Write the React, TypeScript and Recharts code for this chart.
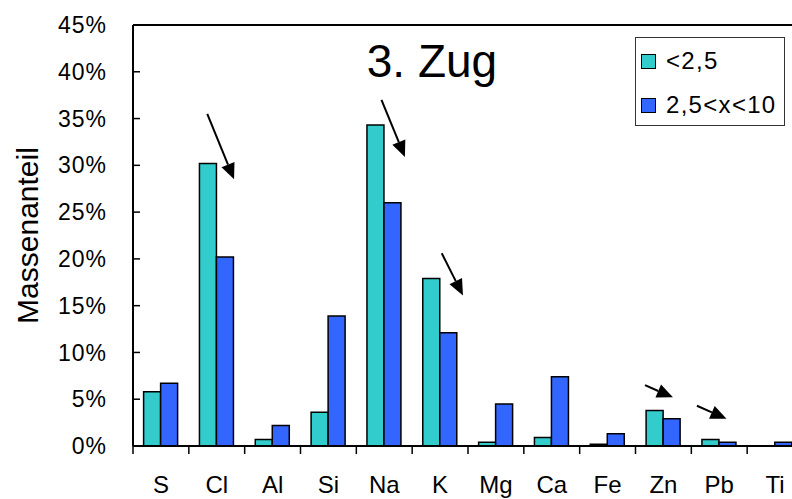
import { Bar, BarChart, Legend, ReferenceLine, XAxis, YAxis } from "recharts";

const elements = ["S", "Cl", "Al", "Si", "Na", "K", "Mg", "Ca", "Fe", "Zn", "Pb", "Ti"];
const fine = [5.8, 30.2, 0.7, 3.6, 34.3, 17.9, 0.4, 0.9, 0.2, 3.8, 0.7, 0];
const coarse = [6.7, 20.2, 2.2, 13.9, 26.0, 12.1, 4.5, 7.4, 1.3, 2.9, 0.4, 0.4];
const yTicks = [0, 5, 10, 15, 20, 25, 30, 35, 40, 45];
const seriesNames = ["<2,5", "2,5<x<10"];

// arrows: category, start/tip offset from the category centre (in bar-group widths), start/tip value in %
const arrowCat = ["Cl", "Na", "K", "Zn", "Pb"];
const arrowOff1 = [-0.17, -0.05, 0.03, -0.33, -0.4];
const arrowVal1 = [35.5, 37.0, 20.6, 6.5, 4.3];
const arrowOff2 = [0.31, 0.37, 0.41, 0.17, 0.13];
const arrowVal2 = [28.5, 30.9, 16.1, 5.2, 2.9];

const data = elements.map((el, i) => ({ el, fine: fine[i], coarse: coarse[i] }));

const W = 812;
const H = 499;
const LEFT = 133;
const RIGHT_M = 9;
const BAND = (W - LEFT - RIGHT_M) / elements.length;
const FONT = '"Liberation Sans", Arial, sans-serif';

const CatTick = (props: any) => {
  const { x, y, payload } = props;
  const bx = x - BAND / 2;
  return (
    <g>
      <line x1={bx} y1={y - 30} x2={bx} y2={y - 22} stroke="#000" strokeWidth={1.5} />
      <text x={x} y={y} dy="0.71em" textAnchor="middle" fontSize={24} fill="#000" fontFamily={FONT}>
        {payload.value}
      </text>
    </g>
  );
};

const makeArrow = (o1: number, o2: number) => (p: any) => {
  const x1 = p.x1 + o1 * BAND;
  const x2 = p.x2 + o2 * BAND;
  const { y1, y2 } = p;
  const dx = x2 - x1;
  const dy = y2 - y1;
  const len = Math.sqrt(dx * dx + dy * dy);
  const ux = dx / len;
  const uy = dy / len;
  const hl = 16;
  const hw = 7;
  const bx = x2 - ux * hl;
  const by = y2 - uy * hl;
  return (
    <g>
      <line x1={x1} y1={y1} x2={bx} y2={by} stroke="#000" strokeWidth={2} />
      <polygon
        points={`${x2},${y2} ${bx - uy * hw},${by + ux * hw} ${bx + uy * hw},${by - ux * hw}`}
        fill="#000"
      />
    </g>
  );
};

const renderLegend = (props: any) => {
  const items = [...(props.payload || [])].sort(
    (a: any, b: any) => seriesNames.indexOf(a.value) - seriesNames.indexOf(b.value)
  );
  return (
    <div
      style={{
        width: 150,
        height: 89,
        boxSizing: "border-box",
        border: "1px solid #333",
        background: "#fff",
        paddingTop: 1,
        paddingLeft: 5,
      }}
    >
      {items.map((entry: any) => (
        <div key={entry.value} style={{ display: "flex", alignItems: "center", height: 44 }}>
          <span
            style={{
              display: "inline-block",
              width: 13,
              height: 13,
              background: entry.color,
              border: "1px solid #000",
              marginRight: 10,
            }}
          />
          <span style={{ fontSize: 24, letterSpacing: 1.3, color: "#000", fontFamily: FONT }}>
            {entry.value}
          </span>
        </div>
      ))}
    </div>
  );
};

export default function App() {
  return (
    <div
      style={{
        position: "fixed",
        left: 0,
        top: 0,
        width: 792,
        height: 499,
        overflow: "hidden",
        background: "#fff",
        fontFamily: FONT,
      }}
    >
      <BarChart
        width={W}
        height={H}
        data={data}
        margin={{ top: 25, right: RIGHT_M, bottom: 0, left: 0 }}
        barCategoryGap="19%"
        barGap={0}
      >
        <XAxis
          dataKey="el"
          height={53}
          interval={0}
          tickLine={false}
          axisLine={{ stroke: "#000", strokeWidth: 2 }}
          tickSize={8}
          tickMargin={22}
          tick={CatTick}
        />
        <YAxis
          width={LEFT}
          domain={[0, 45]}
          ticks={yTicks}
          interval={0}
          tickFormatter={(v) => `${v}%`}
          tick={{ fill: "#000", fontSize: 23, fontFamily: FONT, letterSpacing: 1 }}
          tickSize={-7}
          tickMargin={33}
          tickLine={{ stroke: "#000", strokeWidth: 1.5 }}
          axisLine={{ stroke: "#000", strokeWidth: 2 }}
          label={{
            content: ({ viewBox }: any) => (
              <text
                x={38}
                y={viewBox.y + viewBox.height / 2}
                transform={`rotate(-90 38 ${viewBox.y + viewBox.height / 2})`}
                textAnchor="middle"
                fontSize={30}
                fill="#000"
                fontFamily={FONT}
              >
                Massenanteil
              </text>
            ),
          }}
        />
        <ReferenceLine y={45} stroke="#000" strokeWidth={2} />
        <Legend
          layout="vertical"
          align="center"
          verticalAlign="middle"
          content={renderLegend}
          wrapperStyle={{ position: "absolute", left: 635, top: 37, width: 150, height: 89 }}
        />
        <Bar dataKey="fine" name={seriesNames[0]} fill="#33CCCC" stroke="#000" strokeWidth={1.5} isAnimationActive={false} />
        <Bar dataKey="coarse" name={seriesNames[1]} fill="#3366FF" stroke="#000" strokeWidth={1.5} isAnimationActive={false} />
        {arrowCat.map((c, i) => (
          <ReferenceLine
            key={i}
            segment={[
              { x: c, y: arrowVal1[i] },
              { x: c, y: arrowVal2[i] },
            ]}
            shape={makeArrow(arrowOff1[i], arrowOff2[i])}
          />
        ))}
      </BarChart>
      <div
        style={{
          position: "absolute",
          left: 432,
          top: 75,
          transform: "translate(-50%, -80%)",
          fontSize: 46,
          lineHeight: 1,
          color: "#000",
          whiteSpace: "nowrap",
          fontFamily: FONT,
        }}
      >
        3. Zug
      </div>
    </div>
  );
}
